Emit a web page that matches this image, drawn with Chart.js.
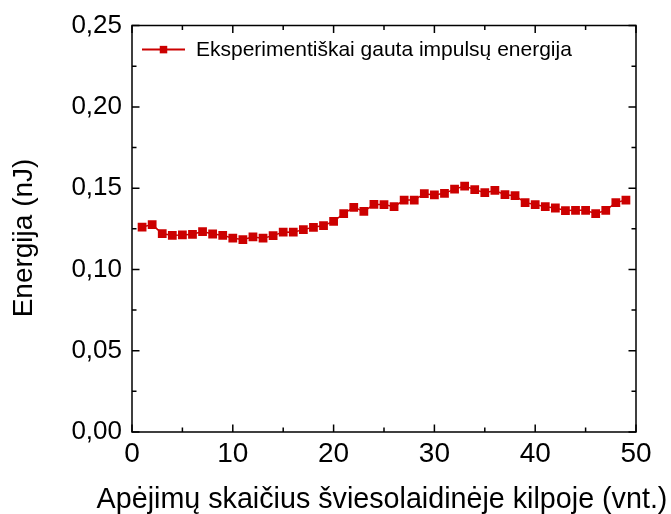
<!DOCTYPE html>
<html>
<head>
<meta charset="utf-8">
<script src="https://cdn.jsdelivr.net/npm/chart.js@4/dist/chart.umd.min.js"></script>
<style>
  html, body { margin: 0; padding: 0; background: #ffffff; }
  #wrap { width: 671px; height: 514px; position: relative; }
</style>
</head>
<body>
<div id="wrap"><canvas id="c" width="671" height="514"></canvas></div>
<script>
// ---- data ----
const cycles = [1,2,3,4,5,6,7,8,9,10,11,12,13,14,15,16,17,18,19,20,21,22,23,24,25,
                26,27,28,29,30,31,32,33,34,35,36,37,38,39,40,41,42,43,44,45,46,47,48,49];
const energy = [0.1261,0.1276,0.1220,0.1210,0.1212,0.1216,0.1233,0.1218,0.1210,0.1192,
                0.1184,0.1200,0.1192,0.1208,0.1230,0.1229,0.1245,0.1259,0.1270,0.1296,
                0.1343,0.1382,0.1357,0.1400,0.1399,0.1386,0.1427,0.1427,0.1466,0.1458,
                0.1468,0.1494,0.1513,0.1491,0.1472,0.1486,0.1460,0.1454,0.1411,0.1399,
                0.1386,0.1378,0.1362,0.1364,0.1364,0.1343,0.1364,0.1411,0.1427];
const xTickValues = [0, 10, 20, 30, 40, 50];
const yTickValues = [0, 0.05, 0.10, 0.15, 0.20, 0.25];
const seriesLabel = 'Eksperimentiškai gauta impulsų energija';
const xTitle = 'Apėjimų skaičius šviesolaidinėje kilpoje (vnt.)';
const yTitle = 'Energija (nJ)';

const RED = '#cc0000';
const FONT = "'Liberation Sans', Arial, sans-serif";

const points = cycles.map((c, i) => ({ x: c, y: energy[i] }));

// frame + inward ticks on all four sides, legend, axis titles
const framePlugin = {
  id: 'frame',
  afterDraw(chart) {
    const { ctx, chartArea: a, scales } = chart;
    const xs = scales.x, ys = scales.y;
    ctx.save();
    ctx.strokeStyle = '#000';
    ctx.lineWidth = 1.5;
    ctx.beginPath();
    ctx.rect(a.left, a.top, a.right - a.left, a.bottom - a.top);
    ctx.stroke();
    const MAJ = 7.5, MIN = 4.5;
    ctx.beginPath();
    const xv = xTickValues;
    for (let i = 0; i < xv.length; i++) {
      const px = xs.getPixelForValue(xv[i]);
      ctx.moveTo(px, a.bottom); ctx.lineTo(px, a.bottom - MAJ);
      ctx.moveTo(px, a.top); ctx.lineTo(px, a.top + MAJ);
      if (i < xv.length - 1) {
        const pm = xs.getPixelForValue((xv[i] + xv[i + 1]) / 2);
        ctx.moveTo(pm, a.bottom); ctx.lineTo(pm, a.bottom - MIN);
        ctx.moveTo(pm, a.top); ctx.lineTo(pm, a.top + MIN);
      }
    }
    const yv = yTickValues;
    for (let i = 0; i < yv.length; i++) {
      const py = ys.getPixelForValue(yv[i]);
      ctx.moveTo(a.left, py); ctx.lineTo(a.left + MAJ, py);
      ctx.moveTo(a.right, py); ctx.lineTo(a.right - MAJ, py);
      if (i < yv.length - 1) {
        const pm = ys.getPixelForValue((yv[i] + yv[i + 1]) / 2);
        ctx.moveTo(a.left, pm); ctx.lineTo(a.left + MIN, pm);
        ctx.moveTo(a.right, pm); ctx.lineTo(a.right - MIN, pm);
      }
    }
    ctx.stroke();

    // legend inside plot
    const lx0 = a.left + 10, lx1 = a.left + 53, ly = a.top + 24;
    ctx.strokeStyle = RED;
    ctx.lineWidth = 2;
    ctx.beginPath();
    ctx.moveTo(lx0, ly); ctx.lineTo(lx1, ly);
    ctx.stroke();
    ctx.fillStyle = RED;
    const s = 7.5;
    ctx.fillRect((lx0 + lx1) / 2 - s / 2, ly - s / 2, s, s);
    ctx.fillStyle = '#000';
    ctx.font = "21px " + FONT;
    ctx.textBaseline = 'middle';
    ctx.textAlign = 'left';
    ctx.fillText(chart.data.datasets[0].label, a.left + 64, ly + 1);

    // x axis title
    ctx.font = "28.7px " + FONT;
    ctx.textAlign = 'center';
    ctx.textBaseline = 'alphabetic';
    ctx.fillText(xTitle, 382, 508);

    // y axis title (rotated)
    ctx.translate(24, 238);
    ctx.rotate(-Math.PI / 2);
    ctx.font = "28px " + FONT;
    ctx.textAlign = 'center';
    ctx.textBaseline = 'middle';
    ctx.fillText(yTitle, 0, 0);
    ctx.restore();
  }
};

new Chart(document.getElementById('c'), {
  type: 'line',
  data: {
    datasets: [{
      label: seriesLabel,
      data: points,
      borderColor: RED,
      backgroundColor: RED,
      borderWidth: 1.5,
      pointStyle: 'rect',
      pointRadius: 6.2,
      pointBorderWidth: 0,
      pointBackgroundColor: RED,
      tension: 0
    }]
  },
  options: {
    responsive: false,
    animation: false,
    devicePixelRatio: 1,
    layout: { padding: { left: 0, top: 25, right: 35, bottom: 0 } },
    plugins: { legend: { display: false }, tooltip: { enabled: false } },
    scales: {
      x: {
        type: 'linear',
        min: 0, max: 50,
        afterBuildTicks(scale) { scale.ticks = xTickValues.map(v => ({ value: v })); },
        afterFit(scale) { scale.height = 82; },
        grid: { display: false, drawTicks: false },
        border: { display: false },
        ticks: {
          color: '#000',
          font: { family: FONT, size: 28 },
          padding: 5,
          maxRotation: 0,
          callback: v => String(v)
        },
        title: { display: false }
      },
      y: {
        type: 'linear',
        min: 0, max: 0.25,
        afterBuildTicks(scale) { scale.ticks = yTickValues.map(v => ({ value: v })); },
        afterFit(scale) { scale.width = 132; },
        grid: { display: false, drawTicks: false },
        border: { display: false },
        ticks: {
          color: '#000',
          font: { family: FONT, size: 26 },
          padding: 10,
          callback: v => Number(v).toFixed(2).replace('.', ',')
        },
        title: { display: false }
      }
    }
  },
  plugins: [framePlugin]
});
</script>
</body>
</html>
